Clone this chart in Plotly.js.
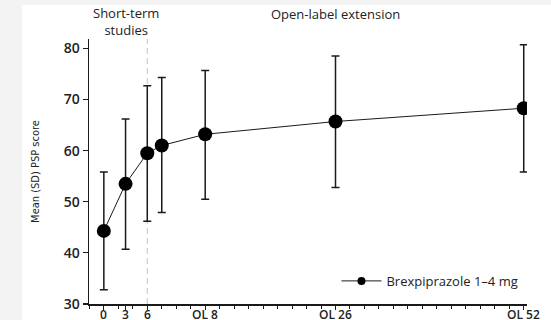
<!DOCTYPE html>
<html><head><meta charset="utf-8">
<script src="https://cdn.plot.ly/plotly-3.0.1.min.js"></script>
<style>
html,body{margin:0;padding:0;background:#fff;width:551px;height:320px;overflow:hidden;}
#chart{position:absolute;left:0;top:0;width:551px;height:320px;}
.strip{position:absolute;background:#f3f3f3;pointer-events:none;z-index:5;}
</style></head>
<body><div id="chart"></div>
<div class="strip" style="left:0;top:0;width:551px;height:5px;"></div>
<div class="strip" style="left:0;top:0;width:22px;height:320px;"></div>
<script>
// weeks since short-term baseline (OL week k = 6 + k)
const weeks = [0, 3, 6, 8, 14, 32, 58];
const tickWeeks = [0, 3, 6, 14, 32, 58];
const tickLabels = ['0', '3', '6', 'OL 8', 'OL 26', 'OL 52'];
const meanPSP = [44.3, 53.5, 59.5, 61.0, 63.2, 65.7, 68.3];
const sdPlus  = [11.5, 12.7, 13.2, 13.3, 12.5, 12.8, 12.4];
const sdMinus = [11.5, 12.8, 13.3, 13.1, 12.7, 12.9, 12.5];
const seriesName = 'Brexpiprazole 1–4 mg';
const phaseBoundary = 6;

const font = 'Open Sans, sans-serif';
const traces = [
  {
    x: weeks, y: meanPSP, type: 'scatter', mode: 'lines+markers',
    line: {color: '#1a1a1a', width: 1},
    marker: {color: '#000', size: 14},
    error_y: {type: 'data', symmetric: false, array: sdPlus, arrayminus: sdMinus,
              color: '#1a1a1a', thickness: 1.5, width: 4},
    showlegend: false, hoverinfo: 'x+y'
  },
  {
    x: [null], y: [null], type: 'scatter', mode: 'lines+markers', name: seriesName,
    line: {color: '#1a1a1a', width: 1}, marker: {color: '#000', size: 8},
    showlegend: true
  }
];

const tickAnnotations = tickWeeks.map((w, i) => ({
  xref: 'x', yref: 'paper', x: w, y: 0, yshift: -10, text: tickLabels[i], showarrow: false,
  xanchor: 'center', yanchor: 'middle', borderpad: 0,
  font: {family: font, size: 12, color: '#222', weight: 600}
}));

const layout = {
  width: 551, height: 320,
  margin: {l: 89, r: 24, t: 39, b: 16},
  paper_bgcolor: '#fff', plot_bgcolor: '#fff',
  font: {family: font, color: '#222', size: 13},
  xaxis: {
    range: [-2.05, 58.45], tickmode: 'array', tickvals: tickWeeks, showticklabels: false,
    showgrid: false, zeroline: false, showline: true, linecolor: '#1a1a1a', linewidth: 1.5,
    ticks: 'outside', ticklen: 4, tickwidth: 1.2, tickcolor: '#1a1a1a',
    minor: {tickmode: 'linear', tick0: 0, dtick: 2, ticks: 'outside', ticklen: 3, tickwidth: 1, tickcolor: '#1a1a1a'},
    fixedrange: true
  },
  yaxis: {
    range: [30, 81.84], tickvals: [30, 40, 50, 60, 70, 80],
    showgrid: false, zeroline: false, showline: true, linecolor: '#1a1a1a', linewidth: 1.5,
    ticks: 'outside', ticklen: 5, tickwidth: 1.2, tickcolor: '#1a1a1a',
    tickfont: {family: font, size: 14, color: '#222', weight: 600},
    title: {text: 'Mean (SD) PSP score', standoff: 22,
            font: {family: 'DejaVu Sans Condensed, sans-serif', size: 11, color: '#222'}},
    fixedrange: true
  },
  shapes: [
    {type: 'line', xref: 'x', yref: 'paper', x0: phaseBoundary, x1: phaseBoundary, y0: 0, y1: 1.0,
     line: {color: '#cfcfcf', width: 1.2, dash: '6px,4px'}, layer: 'below'}
  ],
  annotations: [
    {xref: 'x', yref: 'paper', x: 3, y: 1.0, yshift: -2, text: 'Short-term<br>studies', showarrow: false,
     xanchor: 'center', yanchor: 'bottom', font: {family: font, size: 13, color: '#222'}},
    {xref: 'x', yref: 'paper', x: 32, y: 1.0, yshift: 14, text: 'Open-label extension', showarrow: false,
     xanchor: 'center', yanchor: 'bottom', font: {family: font, size: 13, color: '#222'}}
  ].concat(tickAnnotations),
  legend: {x: 0.565, y: 0.087, xanchor: 'left', yanchor: 'middle', bgcolor: 'rgba(0,0,0,0)',
           itemwidth: 40, font: {family: font, size: 13, color: '#222'}},
  showlegend: true
};
Plotly.newPlot('chart', traces, layout, {displayModeBar: false, staticPlot: true});
</script></body></html>
